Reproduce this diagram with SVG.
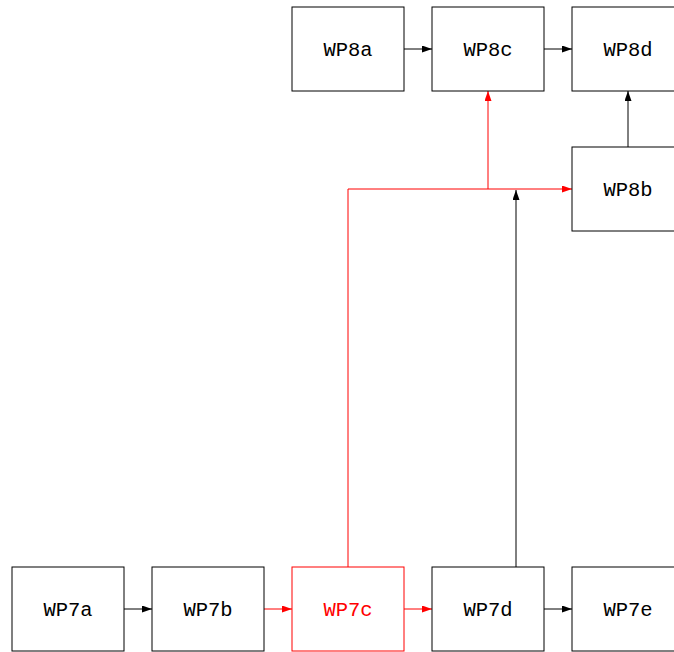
<svg xmlns="http://www.w3.org/2000/svg" width="674" height="652" viewBox="0 0 674 652">
  <style>
    .box rect { fill: #fff; stroke: #000; stroke-width: 1; }
    .box text { font-family: "Liberation Mono", "DejaVu Sans Mono", monospace; font-size: 20.5px; text-anchor: middle; dominant-baseline: central; fill: #000; }
    .box.hl rect { stroke: #ff0000; }
    .box.hl text { fill: #ff0000; }
    .edge { fill: none; stroke: #000; stroke-width: 1; }
    .edge.red { stroke: #ff0000; }
  </style>
  <defs>
    <marker id="ah" viewBox="0 0 10 7" refX="10" refY="3.5" markerWidth="10" markerHeight="7" markerUnits="userSpaceOnUse" orient="auto">
      <path d="M0,0 L10,3.5 L0,7 Z" fill="#000"/>
    </marker>
    <marker id="ahr" viewBox="0 0 10 7" refX="10" refY="3.5" markerWidth="10" markerHeight="7" markerUnits="userSpaceOnUse" orient="auto">
      <path d="M0,0 L10,3.5 L0,7 Z" fill="#ff0000"/>
    </marker>
  </defs>

  <g id="connectors">
    <path class="edge" d="M124,609 H152" marker-end="url(#ah)"/>
    <path class="edge red" d="M264,609 H292" marker-end="url(#ahr)"/>
    <path class="edge red" d="M404,609 H432" marker-end="url(#ahr)"/>
    <path class="edge" d="M544,609 H572" marker-end="url(#ah)"/>
    <path class="edge" d="M404,49 H432" marker-end="url(#ah)"/>
    <path class="edge" d="M544,49 H572" marker-end="url(#ah)"/>
    <path class="edge" d="M628,147 V91" marker-end="url(#ah)"/>
    <path class="edge red" d="M348,567 V189 H572" marker-end="url(#ahr)"/>
    <path class="edge red" d="M488,189 V91" marker-end="url(#ahr)"/>
    <path class="edge" d="M516,567 V190" marker-end="url(#ah)"/>
  </g>

  <g id="WP8a" class="box"><rect x="292" y="7" width="112" height="84"/><text x="348" y="50">WP8a</text></g>
  <g id="WP8c" class="box"><rect x="432" y="7" width="112" height="84"/><text x="488" y="50">WP8c</text></g>
  <g id="WP8d" class="box"><rect x="572" y="7" width="112" height="84"/><text x="628" y="50">WP8d</text></g>
  <g id="WP8b" class="box"><rect x="572" y="147" width="112" height="84"/><text x="628" y="190">WP8b</text></g>
  <g id="WP7a" class="box"><rect x="12" y="567" width="112" height="84"/><text x="68" y="610">WP7a</text></g>
  <g id="WP7b" class="box"><rect x="152" y="567" width="112" height="84"/><text x="208" y="610">WP7b</text></g>
  <g id="WP7c" class="box hl"><rect x="292" y="567" width="112" height="84"/><text x="348" y="610">WP7c</text></g>
  <g id="WP7d" class="box"><rect x="432" y="567" width="112" height="84"/><text x="488" y="610">WP7d</text></g>
  <g id="WP7e" class="box"><rect x="572" y="567" width="112" height="84"/><text x="628" y="610">WP7e</text></g>
</svg>
